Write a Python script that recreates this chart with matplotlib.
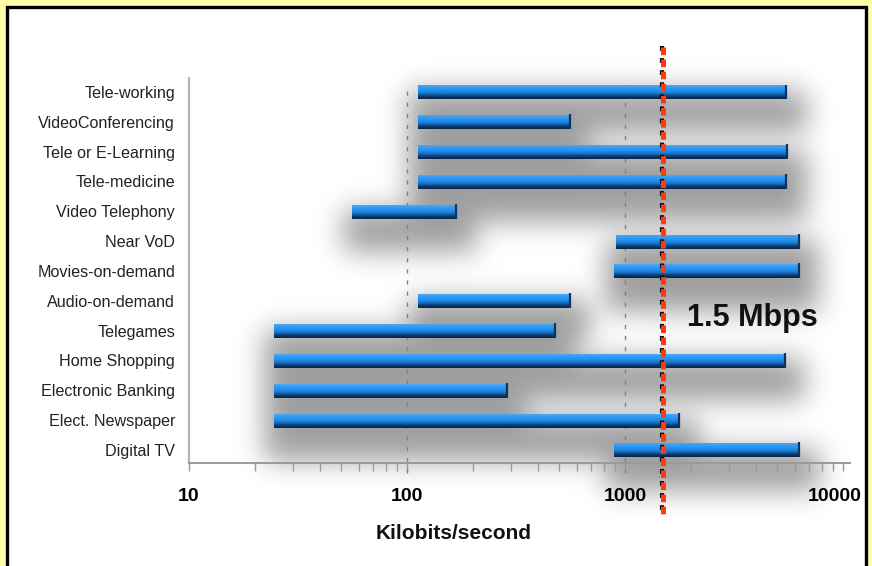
import numpy as np
import matplotlib
matplotlib.use("Agg")
import matplotlib.pyplot as plt
import matplotlib.transforms as mtransforms
from matplotlib.patches import Rectangle
from matplotlib.ticker import LogLocator, NullFormatter, FixedLocator, FixedFormatter

plt.rcParams['font.family'] = ['Liberation Sans', 'DejaVu Sans']
plt.rcParams['lines.scale_dashes'] = False

# services, top to bottom, with the bandwidth range each needs (kbit/s)
services = ["Tele-working", "VideoConferencing", "Tele or E-Learning", "Tele-medicine",
            "Video Telephony", "Near VoD", "Movies-on-demand", "Audio-on-demand",
            "Telegames", "Home Shopping", "Electronic Banking", "Elect. Newspaper",
            "Digital TV"]
rate_low = [112, 112, 112, 112, 56, 906, 892, 112, 24.5, 24.5, 24.5, 24.5, 892]
rate_high = [5500, 560, 5550, 5500, 168, 6280, 6280, 560, 478, 5420, 288, 1770, 6310]

threshold = 1500          # 1.5 Mbps reference line
x_ticks = [10, 100, 1000, 10000]
x_ticklabels = ["10", "100", "1000", "10000"]
grid_at = [100, 1000]

n = len(services)
ypos = np.arange(n)[::-1]
bar_h = 0.5

fig = plt.figure(figsize=(8.72, 5.66), dpi=100)
fig.patch.set_facecolor('#ffffaa')
fig.patches.append(Rectangle((7 / 872, -0.05), 859 / 872, 1.05 - 7 / 566,
                             transform=fig.transFigure, facecolor='white',
                             edgecolor='black', linewidth=2.4, zorder=-3))

ax = fig.add_axes([189 / 872, 1 - 463 / 566, 661 / 872, 385 / 566])
ax.set_facecolor('none')
ax.set_xscale('log')

# vertical gradient used for the glossy bars
stops = np.array([0.0, 0.12, 0.5, 0.68, 0.84, 1.0])
cols = np.array([[0.55, 0.83, 1.00],
                 [0.25, 0.65, 0.97],
                 [0.13, 0.55, 0.91],
                 [0.09, 0.44, 0.78],
                 [0.05, 0.25, 0.46],
                 [0.03, 0.16, 0.29]])
t = np.linspace(0, 1, 40)
grad = np.stack([np.interp(t, stops, cols[:, k]) for k in range(3)], axis=-1)[:, None, :]

for lo, hi, y in zip(rate_low, rate_high, ypos):
    ax.imshow(grad, extent=(lo, hi, y - bar_h / 2, y + bar_h / 2), aspect='auto',
              interpolation='bilinear', origin='upper', zorder=3)
    ax.plot([hi, hi], [y - bar_h / 2, y + bar_h / 2], color='#0b3560', lw=1.6,
            solid_capstyle='butt', zorder=4)

ax.set_xlim(10, 10770)
ax.set_ylim(-0.44, n - 1 + 0.47)

# soft drop shadow under the bars
W, H = 872, 566
mask = np.zeros((H, W))
for lo, hi, y in zip(rate_low, rate_high, ypos):
    (x0, y0), (x1, y1) = ax.transData.transform([(lo, y - bar_h / 2), (hi, y + bar_h / 2)])
    x0, x1 = int(x0 - 6), int(x1 + 18)
    y0, y1 = int(y0 - 30), int(y1 - 8)
    mask[max(y0, 0):min(y1, H), max(x0, 0):min(x1, W)] = 1.0

sigma = 13.0
k = np.arange(-42, 43)
kern = np.exp(-k ** 2 / (2 * sigma ** 2))
kern /= kern.sum()
blur = np.apply_along_axis(lambda r: np.convolve(r, kern, mode='same'), 1, mask)
blur = np.apply_along_axis(lambda c: np.convolve(c, kern, mode='same'), 0, blur)
shadow = np.zeros((H, W, 4))
shadow[..., 3] = np.clip(blur, 0, 1) ** 0.8 * 0.38
fig.figimage(shadow, xo=0, yo=0, origin='lower', zorder=-1)

# dashed guide lines at 100 and 1000
for g in grid_at:
    ax.axvline(g, ymin=-0.025, ymax=0.985, color='#808080', lw=1.0,
               linestyle=(0, (3, 5)), clip_on=False, zorder=2)

# 1.5 Mbps marker: red dashes with a dark edge
trans = mtransforms.blended_transform_factory(ax.transData, ax.transAxes)
shade = mtransforms.offset_copy(trans, fig=fig, x=-0.8, y=1.0, units='points')
ax.plot([threshold, threshold], [1.08, -0.143], transform=shade, color='#1a0a05',
        lw=3.0, linestyle=(0, (3.5, 5.2)), clip_on=False, zorder=5)
ax.plot([threshold, threshold], [1.08, -0.143], transform=trans, color='#ff3a10',
        lw=3.6, linestyle=(0, (5.5, 3.2)), clip_on=False, zorder=6)
ax.text(3860, 4.42, "1.5 Mbps", fontsize=22, fontweight='bold', ha='center',
        va='center', color='#111111', zorder=6)

# axes styling
for side in ['top', 'right']:
    ax.spines[side].set_visible(False)
ax.spines['left'].set_color('#b4b4b4')
ax.spines['left'].set_linewidth(1.6)
ax.spines['bottom'].set_color('#9a9a9a')
ax.spines['bottom'].set_linewidth(1.4)

ax.xaxis.set_major_locator(FixedLocator(x_ticks))
ax.xaxis.set_major_formatter(FixedFormatter(x_ticklabels))
ax.xaxis.set_minor_locator(LogLocator(base=10, subs=np.arange(2, 10)))
ax.xaxis.set_minor_formatter(NullFormatter())
ax.tick_params(axis='x', which='major', length=6, width=1, color='#9a9a9a',
               direction='out', pad=12, labelsize=14)
ax.tick_params(axis='x', which='minor', length=6, width=1, color='#9a9a9a',
               direction='out')
fig.canvas.draw()
xlabels = ax.get_xticklabels()
for lbl in xlabels:
    lbl.set_fontweight('bold')
# last label sits a little left of its tick
xlabels[-1].set_transform(xlabels[-1].get_transform()
                          + mtransforms.ScaledTranslation(-0.08, 0, fig.dpi_scale_trans))

ax.set_yticks(ypos)
ax.set_yticklabels(services)
ax.tick_params(axis='y', length=0, pad=10, labelsize=11.6, labelcolor='#222222')

ax.set_xlabel("Kilobits/second", fontsize=15, fontweight='bold', labelpad=14,
              color='#111111', x=0.40)

fig.savefig("out.png", dpi=100, facecolor=fig.get_facecolor())
